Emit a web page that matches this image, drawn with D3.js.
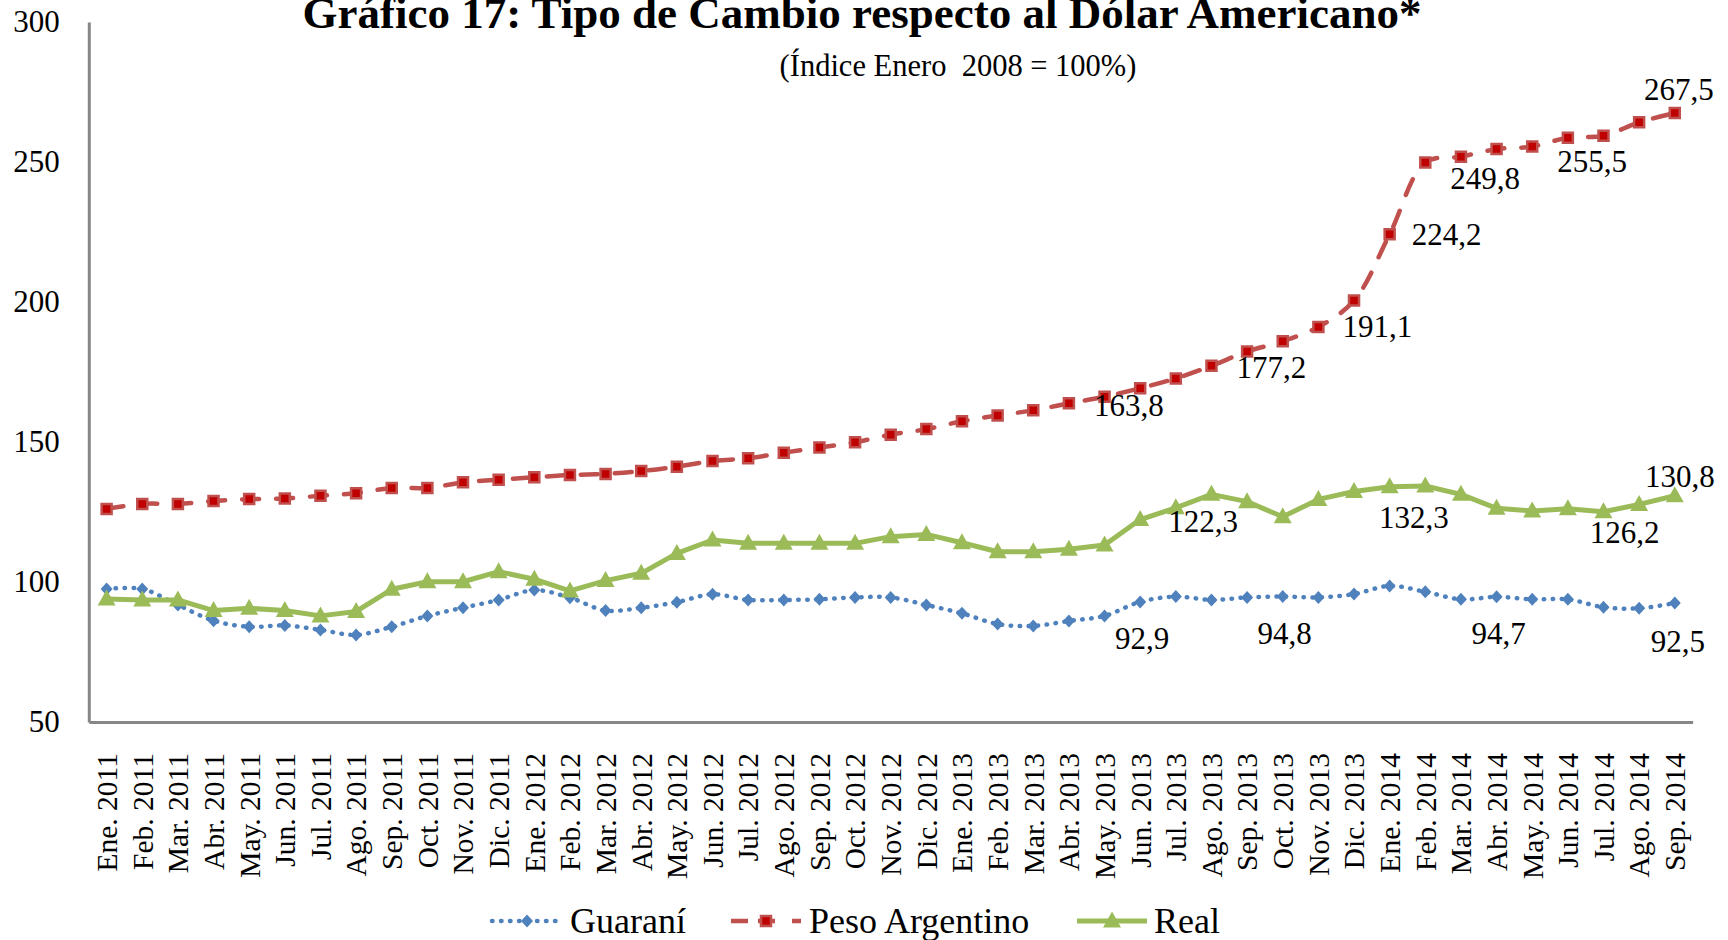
<!DOCTYPE html>
<html>
<head>
<meta charset="utf-8">
<script src="https://cdn.jsdelivr.net/npm/d3@7"></script>
<style>
  body { margin: 0; background: #fff; }
  text { font-family: "Liberation Serif", "Times New Roman", serif; fill: #000; }
</style>
</head>
<body>
<svg id="chart"></svg>
<script>
// 1. Data
const months = ["Ene.", "Feb.", "Mar.", "Abr.", "May.", "Jun.", "Jul.", "Ago.", "Sep.", "Oct.", "Nov.", "Dic."];
const years = [2011, 2012, 2013, 2014];
const lastMonth = 8; // Sep. 2014

const categories = [];
years.forEach((yr) => {
  months.forEach((m, i) => {
    if (yr < 2014 || i <= lastMonth) categories.push(`${m} ${yr}`);
  });
});

const guarani = [97.5, 97.5, 91.8, 86.2, 84.0, 84.5, 82.9, 81.1, 84.0, 87.9, 90.8, 93.6,
  97.1, 94.4, 89.8, 90.8, 92.8, 95.6, 93.6, 93.6, 93.8, 94.5, 94.5, 91.8,
  88.8, 85.0, 84.3, 86.1, 87.9, 92.9, 94.8, 93.6, 94.5, 94.8, 94.5, 95.7,
  98.6, 96.5, 93.8, 94.7, 93.8, 93.8, 91.0, 90.6, 92.5];

const pesoArgentino = [126.1, 127.9, 127.9, 128.9, 129.6, 129.8, 130.8, 131.7, 133.6, 133.6, 135.6, 136.5,
  137.4, 138.2, 138.6, 139.6, 141.2, 143.2, 144.2, 146.2, 148.0, 149.9, 152.6, 154.6,
  157.4, 159.5, 161.3, 163.8, 166.2, 169.2, 172.7, 177.2, 182.3, 186.0, 191.1, 200.5,
  224.2, 249.8, 251.9, 254.6, 255.5, 258.7, 259.4, 264.2, 267.5];

const real = [93.9, 93.6, 93.6, 89.8, 90.6, 89.8, 87.9, 89.5, 97.4, 100.1, 100.1, 103.7,
  101.0, 96.8, 100.5, 103.1, 110.2, 115.0, 113.8, 113.8, 113.8, 113.8, 116.2, 117.0,
  114.0, 110.8, 110.8, 111.7, 113.2, 122.3, 126.5, 131.3, 128.7, 123.3, 129.5, 132.3,
  134.0, 134.3, 131.3, 126.3, 125.4, 126.2, 125.1, 127.7, 130.8];

const yTicks = [50, 100, 150, 200, 250, 300];

// points that carry a value label
const guaraniLabeled = [29, 33, 39, 44];
const pesoLabeled = [27, 31, 34, 36, 37, 40, 44];
const realLabeled = [29, 35, 41, 44];

// 2. Setup
const width = 1728, height = 940;
const plotLeft = 88.8, plotRight = 1692.6, plotTop = 22, plotBottom = 722;

const svg = d3.select("#chart").attr("width", width).attr("height", height);
svg.append("rect").attr("width", width).attr("height", height).attr("fill", "#fff");

const x = d3.scaleBand().domain(categories).range([plotLeft, plotRight]);
const cx = (i) => x(categories[i]) + x.bandwidth() / 2;
const y = d3.scaleLinear().domain([50, 300]).range([plotBottom, plotTop]);

// 3. Titles
svg.append("text")
  .attr("x", 862).attr("y", 28)
  .attr("text-anchor", "middle")
  .style("font-size", "45px").style("font-weight", "bold")
  .text("Gráfico 17: Tipo de Cambio respecto al Dólar Americano*");

svg.append("text")
  .attr("x", 958).attr("y", 76)
  .attr("text-anchor", "middle")
  .style("font-size", "30.5px").style("white-space", "pre")
  .text("(Índice Enero  2008 = 100%)");

// 4. Axes
const yAxis = svg.append("g")
  .attr("transform", `translate(${plotLeft},0)`)
  .call(d3.axisLeft(y).tickValues(yTicks).tickSize(0).tickPadding(29));
yAxis.select(".domain").attr("stroke", "#868686").attr("stroke-width", 3);
yAxis.selectAll("text").style("font-size", "31px").attr("font-family", null);

const xAxis = svg.append("g")
  .attr("transform", `translate(0,${plotBottom})`)
  .call(d3.axisBottom(x).tickSize(0).tickSizeOuter(0));
xAxis.select(".domain").attr("stroke", "#868686").attr("stroke-width", 3);
xAxis.selectAll("text")
  .attr("font-family", null)
  .style("font-size", "29.5px")
  .attr("transform", "rotate(-90)")
  .attr("text-anchor", "end")
  .attr("x", -31)
  .attr("y", 0)
  .attr("dy", "0.35em");

// 5. Series
const line = d3.line()
  .x((d, i) => cx(i))
  .y((d) => y(d))
  .curve(d3.curveCatmullRom.alpha(0.5));

const straight = d3.line()
  .x((d, i) => cx(i))
  .y((d) => y(d));

const diamond = "M0,-6.5L6,0L0,6.5L-6,0Z";
const square = "M-5,-5H5V5H-5Z";
const triangle = "M0,-9.5L9,6.5L-9,6.5Z";

// Guaraní
svg.append("path")
  .attr("d", line(guarani))
  .attr("fill", "none")
  .attr("stroke", "#4F81BD")
  .attr("stroke-width", 4.5)
  .attr("stroke-linecap", "round")
  .attr("stroke-dasharray", "0.5,8.5");

svg.append("g").selectAll("path")
  .data(guarani)
  .join("path")
  .attr("d", diamond)
  .attr("transform", (d, i) => `translate(${cx(i)},${y(d)})`)
  .attr("fill", "#4F81BD");

// Peso Argentino
svg.append("path")
  .attr("d", line(pesoArgentino))
  .attr("fill", "none")
  .attr("stroke", "#C0504D")
  .attr("stroke-width", 4.5)
  .attr("stroke-linecap", "round")
  .attr("stroke-dasharray", "17,17");

svg.append("g").selectAll("path")
  .data(pesoArgentino)
  .join("path")
  .attr("d", square)
  .attr("transform", (d, i) => `translate(${cx(i)},${y(d)})`)
  .attr("fill", "#C00000")
  .attr("stroke", "#C0504D")
  .attr("stroke-width", 2.5);

// Real
svg.append("path")
  .attr("d", straight(real))
  .attr("fill", "none")
  .attr("stroke", "#9BBB59")
  .attr("stroke-width", 5)
  .attr("stroke-linejoin", "round");

svg.append("g").selectAll("path")
  .data(real)
  .join("path")
  .attr("d", triangle)
  .attr("transform", (d, i) => `translate(${cx(i)},${y(d)})`)
  .attr("fill", "#9BBB59");

// 6. Value labels
const fmt = (v) => v.toFixed(1).replace(".", ",");

// placement of each label relative to its point: [dx, dy, anchor]
const place = {
  g29: [2, 37, "middle"], g33: [2, 37, "middle"], g39: [2, 37, "middle"], g44: [3, 38, "middle"],
  p27: [25, 2, "start"], p31: [25, 2, "start"], p34: [24, 0, "start"], p36: [22, 0, "start"],
  p37: [25, 16, "start"], p40: [25, 15, "start"], p44: [4, -24, "middle"],
  r29: [28, 2, "start"], r35: [25, 26, "start"], r41: [22, 24, "start"], r44: [5, -19, "middle"]
};

function addLabels(values, idx, key) {
  svg.append("g").selectAll("text")
    .data(idx)
    .join("text")
    .attr("x", (i) => cx(i) + place[key + i][0])
    .attr("y", (i) => y(values[i]) + place[key + i][1])
    .attr("text-anchor", (i) => place[key + i][2])
    .attr("dominant-baseline", "central")
    .style("font-size", "31px")
    .text((i) => fmt(values[i]));
}
addLabels(guarani, guaraniLabeled, "g");
addLabels(pesoArgentino, pesoLabeled, "p");
addLabels(real, realLabeled, "r");

// 7. Legend
const legendY = 921;
const legendItems = [
  { name: "Guaraní", x0: 492, tx: 570, color: "#4F81BD", dash: "0.5,8.5", marker: diamond, fill: "#4F81BD", w: 4.5 },
  { name: "Peso Argentino", x0: 731, tx: 809, color: "#C0504D", dash: "17,10,17", marker: square, fill: "#C00000", w: 4.5 },
  { name: "Real", x0: 1077, tx: 1154, color: "#9BBB59", dash: null, marker: triangle, fill: "#9BBB59", w: 5 }
];

const legend = svg.append("g");
const li = legend.selectAll("g").data(legendItems).join("g");
li.append("line")
  .attr("x1", (d) => d.x0).attr("x2", (d) => d.x0 + 70)
  .attr("y1", legendY).attr("y2", legendY)
  .attr("stroke", (d) => d.color)
  .attr("stroke-width", (d) => d.w)
  .attr("stroke-linecap", (d) => (d.name === "Guaraní" ? "round" : "butt"))
  .attr("stroke-dasharray", (d) => d.dash);
li.append("path")
  .attr("d", (d) => d.marker)
  .attr("transform", (d) => `translate(${d.x0 + 35},${legendY})`)
  .attr("fill", (d) => d.fill)
  .attr("stroke", (d) => (d.name === "Peso Argentino" ? "#C0504D" : null))
  .attr("stroke-width", 2.5);
li.append("text")
  .attr("x", (d) => d.tx)
  .attr("y", legendY)
  .attr("dominant-baseline", "central")
  .style("font-size", "36px")
  .text((d) => d.name);
</script>
</body>
</html>
